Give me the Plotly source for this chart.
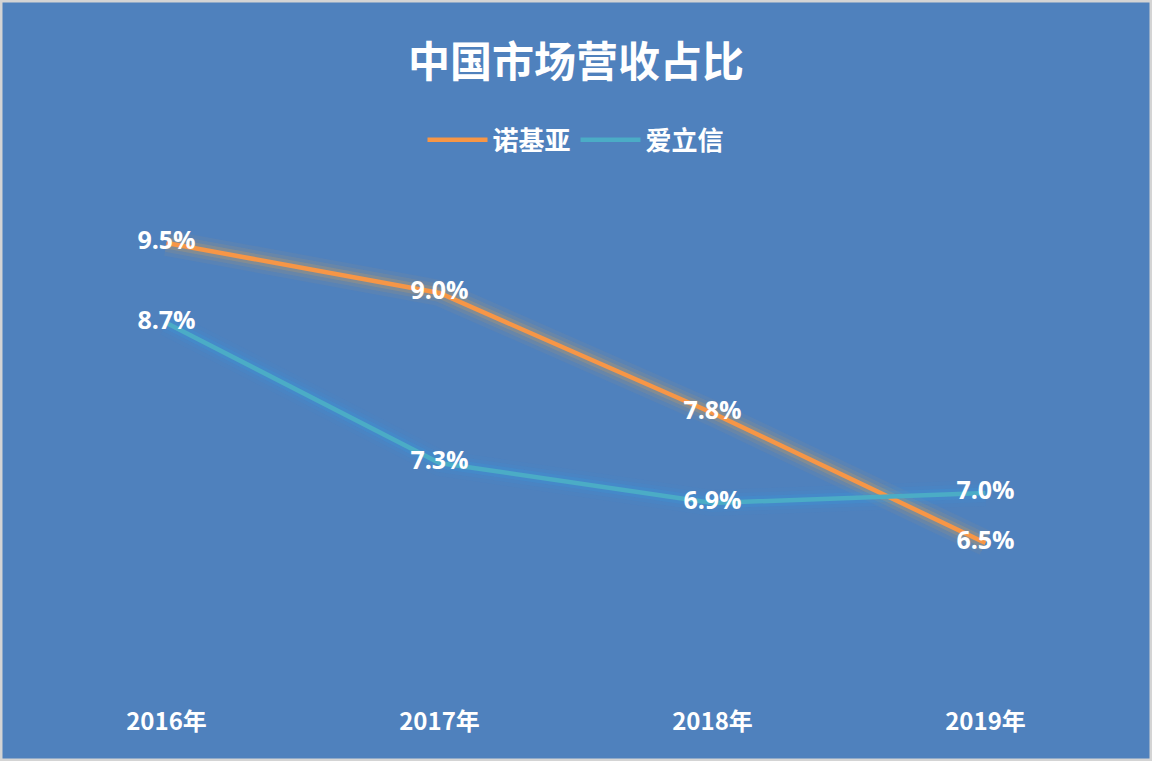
import plotly.graph_objects as go

# Données
annees = ["2016年", "2017年", "2018年", "2019年"]
nokia = [9.5, 9.0, 7.8, 6.5]
ericsson = [8.7, 7.3, 6.9, 7.0]

BLEU = "#4F81BD"
ORANGE = "#F79646"
TURQUOISE = "#4BACC6"
POLICE = "Noto Sans CJK SC"

fig = go.Figure()

# Halo lumineux sous les lignes
for largeur, alpha in [(26, 0.06), (18, 0.1), (11, 0.18)]:
    fig.add_trace(go.Scatter(x=annees, y=nokia, mode="lines", showlegend=False, hoverinfo="skip",
                             line=dict(color=f"rgba(247,170,60,{alpha})", width=largeur)))
    fig.add_trace(go.Scatter(x=annees, y=ericsson, mode="lines", showlegend=False, hoverinfo="skip",
                             line=dict(color=f"rgba(50,160,235,{alpha})", width=largeur)))

# Lignes principales
fig.add_trace(go.Scatter(x=annees, y=nokia, mode="lines", name="诺基亚",
                         line=dict(color=ORANGE, width=4.5)))
fig.add_trace(go.Scatter(x=annees, y=ericsson, mode="lines", name="爱立信",
                         line=dict(color=TURQUOISE, width=4.5)))

# Étiquettes de valeurs
for serie in (nokia, ericsson):
    fig.add_trace(go.Scatter(x=annees, y=serie, mode="text", showlegend=False, hoverinfo="skip",
                             text=[f"{v:.1f}%" for v in serie], textposition="middle center",
                             textfont=dict(color="white", size=25, family="Open Sans", weight="bold")))

fig.update_layout(
    width=1152, height=761,
    margin=dict(l=30, r=30, t=93, b=68),
    paper_bgcolor=BLEU, plot_bgcolor=BLEU,
    title=dict(text="<b>中国市场营收占比</b>", x=0.5, xanchor="center", y=0.918, yanchor="middle",
               font=dict(family=POLICE, size=42, color="white")),
    legend=dict(orientation="h", x=0.5, xanchor="center", y=0.922, yanchor="middle",
                font=dict(family=POLICE, size=26, color="white", weight="bold"),
                bgcolor="rgba(0,0,0,0)", itemwidth=60),
    xaxis=dict(showgrid=False, zeroline=False, showline=False, ticks="",
               tickfont=dict(family=POLICE, size=24, color="white", weight="bold"),
               ticklabelstandoff=12, range=[-0.5, 3.5]),
    yaxis=dict(range=[5, 11], visible=False),
    shapes=[dict(type="rect", xref="paper", yref="paper", layer="above",
                 x0=-29 / 1092, x1=1 + 29 / 1092, y0=-67 / 600, y1=1 + 92 / 600,
                 line=dict(color="#D4D4D4", width=3))],
)

fig.write_html("out.html", config={"displayModeBar": False},
               post_script="document.body.style.margin='0';")
